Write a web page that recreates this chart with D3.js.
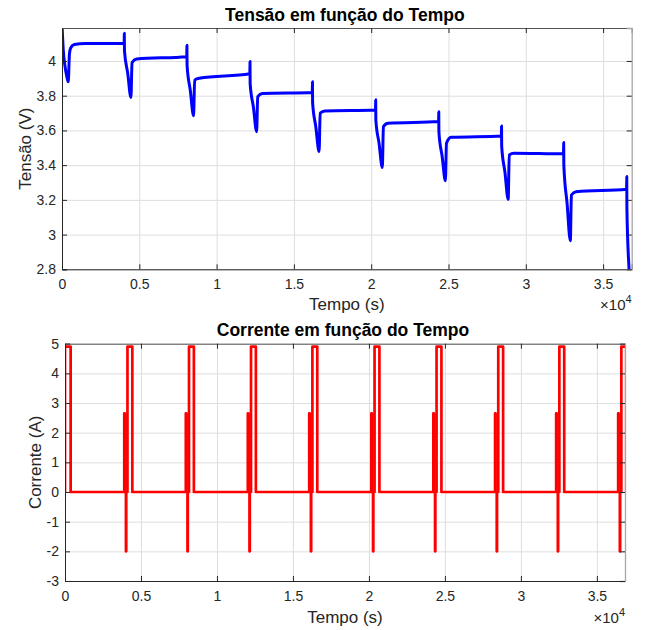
<!DOCTYPE html>
<html>
<head>
<meta charset="utf-8">
<script src="https://cdn.jsdelivr.net/npm/d3@7"></script>
<style>
  body { margin: 0; background: #fff; }
  svg text { font-family: "Liberation Sans", Arial, sans-serif; }
</style>
</head>
<body>
<svg id="chart" width="646" height="630"></svg>
<script>
// ---- data ----
const xMax = 36850;
const timeTicks = [0, 5000, 10000, 15000, 20000, 25000, 30000, 35000];
const voltTicks = [2.8, 3, 3.2, 3.4, 3.6, 3.8, 4];
const currTicks = [-3, -2, -1, 0, 1, 2, 3, 4, 5];

// time of each pulse (s)
const pulseTimes = [4030, 8080, 12160, 16200, 20290, 24370, 28430, 32450, 36530];

// current: first discharge step, then the same pulse pattern at every pulse time
const firstPulse = [[0, 0], [0, 4.9], [370, 4.9], [370, 0]];
const pulseOffsets = [-130, -130, -100, -100, -20, -20, 0, 0, 80, 80, 400, 400];
const pulseAmps = [0, 2.65, 2.65, 0, 0, -2, -2, 0, 0, 4.9, 4.9, 0];

// voltage: start of the test, then key levels of every cycle
const voltStart = [[0, 4.21], [85, 4.06], [195, 3.97], [300, 3.915], [405, 3.88],
  [480, 4.04], [560, 4.075], [800, 4.095], [1500, 4.1]];
const vPlateau = [4.1, 4.025, 3.926, 3.818, 3.718, 3.651, 3.568, 3.465, 3.261];
const vSpikeUp = [4.16, 4.09, 3.997, 3.88, 3.776, 3.708, 3.626, 3.53, 3.334];
const vSpikeLow = [4.06, 3.975, 3.87, 3.76, 3.66, 3.59, 3.51, 3.4, 3.15];
const vMid = [3.93, 3.83, 3.735, 3.62, 3.525, 3.45, 3.36, 3.18];
const vDip = [3.79, 3.684, 3.593, 3.478, 3.386, 3.31, 3.203, 2.965];
const vRecover = [3.99, 3.89, 3.795, 3.7, 3.622, 3.526, 3.459, 3.228];
const vKnee = [4.012, 3.9, 3.812, 3.712, 3.641, 3.56, 3.469, 3.247];
const vTail = [[150, 2.8], [300, 2.62]];

// ---- build series ----
const current = firstPulse.slice();
pulseTimes.forEach((t) => {
  pulseOffsets.forEach((o, i) => current.push([t + o, pulseAmps[i]]));
});

const voltage = voltStart.slice();
pulseTimes.forEach((t, k) => {
  voltage.push([t - 10, vPlateau[k]], [t, vSpikeUp[k]], [t + 10, vSpikeLow[k]]);
  if (k < vDip.length) {
    voltage.push([t + 220, vMid[k]], [t + 430, vDip[k]], [t + 500, vRecover[k]], [t + 800, vKnee[k]]);
  } else {
    vTail.forEach((d) => voltage.push([t + d[0], d[1]]));
  }
});

const svg = d3.select("#chart");
const axisColor = "#262626";

const drawPanel = (p) => {
  const w = p.width, h = p.height;
  const g = svg.append("g").attr("transform", `translate(${p.left}, ${p.top})`);

  const xScale = d3.scaleLinear().domain([0, xMax]).range([0, w]);
  const yScale = d3.scaleLinear().domain(p.yDomain).range([h, 0]);

  // grid
  const gx = g.append("g").attr("transform", `translate(0, ${h})`)
    .call(d3.axisBottom(xScale).tickValues(timeTicks).tickSize(-h).tickFormat(""));
  const gy = g.append("g")
    .call(d3.axisLeft(yScale).tickValues(p.yTicks).tickSize(-w).tickFormat(""));
  [gx, gy].forEach((a) => {
    a.select(".domain").remove();
    a.selectAll("line").attr("stroke", "#dedede");
  });

  // data line
  const clipId = "clip" + p.name;
  g.append("clipPath").attr("id", clipId)
    .append("rect").attr("width", w).attr("height", h);

  const lineGen = d3.line()
    .x((d) => xScale(d[0]))
    .y((d) => yScale(d[1]))
    .curve(p.curve);

  g.append("path")
    .attr("clip-path", `url(#${clipId})`)
    .attr("d", lineGen(p.data))
    .attr("fill", "none")
    .attr("stroke", p.color)
    .attr("stroke-width", p.lineWidth)
    .attr("stroke-linejoin", "round");

  // axes with inward ticks on every side
  const xAxisG = g.append("g").attr("transform", `translate(0, ${h})`)
    .call(d3.axisBottom(xScale).tickValues(timeTicks).tickSize(-5).tickPadding(10)
      .tickFormat((d) => String(d / 10000)));
  const yAxisG = g.append("g")
    .call(d3.axisLeft(yScale).tickValues(p.yTicks).tickSize(-5).tickPadding(6)
      .tickFormat((d) => String(+d.toFixed(1))));
  const topG = g.append("g")
    .call(d3.axisTop(xScale).tickValues(timeTicks).tickSize(-5).tickFormat(""));
  const rightG = g.append("g").attr("transform", `translate(${w}, 0)`)
    .call(d3.axisRight(yScale).tickValues(p.yTicks).tickSize(-5).tickFormat(""));

  [xAxisG, yAxisG, topG].forEach((a) => {
    a.select(".domain").attr("stroke", axisColor);
    a.selectAll("line").attr("stroke", axisColor);
  });
  rightG.select(".domain").attr("stroke", "#a6a6a6").attr("stroke-width", 1.3);
  rightG.selectAll("line").attr("stroke", axisColor);
  topG.select(".domain").attr("stroke", "#555");

  [xAxisG, yAxisG].forEach((a) => {
    a.selectAll("text")
      .attr("fill", axisColor)
      .style("font-size", "14px")
      .style("font-family", '"Liberation Sans", Arial, sans-serif');
  });

  // title
  svg.append("text")
    .attr("x", p.left + w / 2 - 2)
    .attr("y", p.titleY)
    .attr("text-anchor", "middle")
    .attr("fill", "#000")
    .style("font-size", "17.5px")
    .style("font-weight", "bold")
    .text(p.title);

  // x label
  svg.append("text")
    .attr("x", p.left + w / 2)
    .attr("y", p.xLabelY)
    .attr("text-anchor", "middle")
    .attr("fill", axisColor)
    .style("font-size", "17px")
    .text("Tempo (s)");

  // exponent
  const expo = svg.append("text")
    .attr("x", p.left + w)
    .attr("y", p.xLabelY)
    .attr("text-anchor", "end")
    .attr("fill", axisColor)
    .style("font-size", "15px");
  expo.append("tspan").text("\u00d710");
  expo.append("tspan").attr("dy", -7).style("font-size", "11px").text("4");

  // y label
  svg.append("text")
    .attr("transform", `translate(${p.yLabelX}, ${p.top + h / 2}) rotate(-90)`)
    .attr("text-anchor", "middle")
    .attr("fill", axisColor)
    .style("font-size", "17px")
    .text(p.yLabel);
};

drawPanel({
  name: "v", left: 62, top: 28, width: 569.7, height: 241.3,
  yDomain: [2.8, 4.19], yTicks: voltTicks,
  data: voltage, color: "#0000ff", lineWidth: 3, curve: d3.curveMonotoneX,
  title: "Tensão em função do Tempo", titleY: 20.5,
  xLabelY: 310, yLabel: "Tensão (V)", yLabelX: 30.5,
});

drawPanel({
  name: "i", left: 65, top: 343.7, width: 560, height: 237.3,
  yDomain: [-3, 5], yTicks: currTicks,
  data: current, color: "#ff0000", lineWidth: 2.7, curve: d3.curveLinear,
  title: "Corrente em função do Tempo", titleY: 335.5,
  xLabelY: 622.5, yLabel: "Corrente (A)", yLabelX: 41,
});
</script>
</body>
</html>
